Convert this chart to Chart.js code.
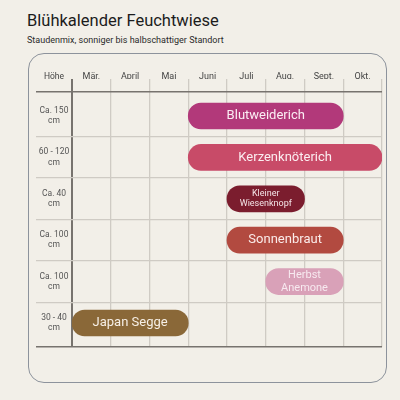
<!DOCTYPE html>
<html>
<head>
<meta charset="utf-8">
<script src="https://cdn.jsdelivr.net/npm/chart.js@4"></script>
<style>
  html, body { margin:0; padding:0; background:#f2efe8; }
  body { width:400px; height:400px; position:relative; overflow:hidden; font-family: Roboto, "Noto Sans", sans-serif; }
  #title { position:absolute; left:27px; top:12px; font-size:16.5px; line-height:17px; color:#1c1c1c; white-space:nowrap; }
  #subtitle { position:absolute; left:27px; top:35px; font-size:9px; line-height:10px; color:#2a2a2a; white-space:nowrap; }
  #panel { position:absolute; left:28px; top:53px; width:357px; height:328px; border:1.5px solid #8d939c; border-radius:16px; }
  canvas { position:absolute; left:0; top:0; }
</style>
</head>
<body>
<div id="title">Blühkalender Feuchtwiese</div>
<div id="subtitle">Staudenmix, sonniger bis halbschattiger Standort</div>
<div id="panel"></div>
<canvas id="c" width="400" height="400"></canvas>
<script>
// ---- data ----
const months = ['Mär.', 'April', 'Mai', 'Juni', 'Juli', 'Aug.', 'Sept.', 'Okt.'];
const firstMonth = 3;   // März
const lastMonthEnd = 11; // end of Oktober
const heightHeader = 'Höhe';
const plantLines = [['Blutweiderich'], ['Kerzenknöterich'], ['Kleiner', 'Wiesenknopf'], ['Sonnenbraut'], ['Herbst', 'Anemone'], ['Japan Segge']];
const heightLines = [['Ca. 150', 'cm'], ['60 - 120', 'cm'], ['Ca. 40', 'cm'], ['Ca. 100', 'cm'], ['Ca. 100', 'cm'], ['30 - 40', 'cm']];
const bloomStart = [6, 6, 7, 7, 8, 3];
const bloomEnd = [10, 11, 9, 10, 10, 6];

// ---- styles ----
const barColors = ['#b2397a', '#c84b68', '#7b1d2e', '#b24a40', '#d9a1b8', '#8a6838'];
const textColors = ['#fbeef4', '#fbeef1', '#f4e4e7', '#fbecea', '#f7e9ef', '#f6efe6'];
const textSizes = [13, 13, 9, 13, 11, 13];
const FONT = 'Roboto, "Noto Sans", sans-serif';
const gridLight = '#cfcbc4';
const gridDark = '#77736e';

const yMin = -0.58, yMax = 5.58;

const mctx = document.createElement('canvas').getContext('2d');
mctx.font = '8.5px ' + FONT;
let widest = 0;
heightLines.forEach(ls => ls.forEach(l => { widest = Math.max(widest, mctx.measureText(l).width); }));

const barLabels = {
  id: 'barLabels',
  afterDatasetsDraw(chart) {
    const ctx = chart.ctx;
    const meta = chart.getDatasetMeta(0);
    meta.data.forEach((bar, i) => {
      const lines = plantLines[i];
      const size = textSizes[i];
      const lh = size * 1.2;
      const cx = (bar.x + bar.base) / 2;
      ctx.save();
      ctx.font = size + 'px ' + FONT;
      ctx.fillStyle = textColors[i];
      ctx.textAlign = 'center';
      ctx.textBaseline = 'middle';
      lines.forEach((l, k) => {
        ctx.fillText(l, cx, bar.y + (k - (lines.length - 1) / 2) * lh);
      });
      ctx.restore();
    });
    // column header of the height column, centred over the y axis labels
    const ys = chart.scales.y, xl = chart.scales.xl;
    ctx.save();
    ctx.font = '8.5px ' + FONT;
    ctx.fillStyle = '#444';
    ctx.textAlign = 'center';
    ctx.textBaseline = 'middle';
    ctx.fillText(heightHeader, (ys.left + ys.right) / 2, xl.bottom - 2);
    ctx.restore();
  }
};

new Chart(document.getElementById('c'), {
  type: 'bar',
  data: {
    datasets: [{
      xAxisID: 'x',
      yAxisID: 'y',
      data: plantLines.map((_, i) => ({ y: i, x: [bloomStart[i], bloomEnd[i]] })),
      backgroundColor: barColors,
      borderWidth: 0,
      borderRadius: 14,
      borderSkipped: false,
      barThickness: 26
    }]
  },
  options: {
    indexAxis: 'y',
    responsive: false,
    animation: false,
    layout: { padding: { left: 36, right: 18, top: 67, bottom: 53 } },
    plugins: { legend: { display: false }, tooltip: { enabled: false } },
    scales: {
      xl: {
        type: 'category',
        labels: months,
        position: 'top',
        offset: true,
        weight: 10,
        grid: { display: false, drawTicks: false },
        border: { display: false },
        ticks: { font: { size: 9, family: FONT }, color: '#444', padding: -3.5, maxRotation: 0 },
        afterFit(s) { s.height = 12; }
      },
      x: {
        type: 'linear',
        position: 'top',
        weight: 0,
        offset: false,
        min: firstMonth,
        max: lastMonthEnd,
        ticks: { display: false, stepSize: 1 },
        border: { display: false },
        grid: {
          offset: false,
          drawTicks: true,
          tickLength: 13,
          color: c => c.tick && c.tick.value === firstMonth ? gridDark : gridLight,
          lineWidth: c => c.tick && c.tick.value === firstMonth ? 2 : 1.3
        }
      },
      y: {
        type: 'linear',
        reverse: true,
        offset: false,
        min: yMin,
        max: yMax,
        afterBuildTicks(s) {
          const t = [{ value: yMin }];
          for (let i = 0; i < heightLines.length; i++) {
            t.push({ value: i });
            if (i < heightLines.length - 1) t.push({ value: i + 0.5 });
          }
          t.push({ value: yMax });
          s.ticks = t;
        },
        afterFit(s) { s.width = 36; },
        border: { display: false },
        grid: {
          offset: false,
          drawTicks: true,
          tickLength: 36,
          color: c => {
            if (!c.tick) return 'transparent';
            const v = c.tick.value;
            if (v === yMin || v === yMax) return gridDark;
            return Number.isInteger(v) ? 'transparent' : gridLight;
          },
          lineWidth: c => c.tick && (c.tick.value === yMin || c.tick.value === yMax) ? 1.6 : 1.3
        },
        ticks: {
          crossAlign: 'center',
          padding: -18 - widest / 2,
          font: { size: 8.5, family: FONT, lineHeight: 1.2 },
          color: '#555',
          autoSkip: false,
          callback: v => Number.isInteger(v) && heightLines[v] ? heightLines[v] : ''
        }
      }
    }
  },
  plugins: [barLabels]
});
</script>
</body>
</html>
